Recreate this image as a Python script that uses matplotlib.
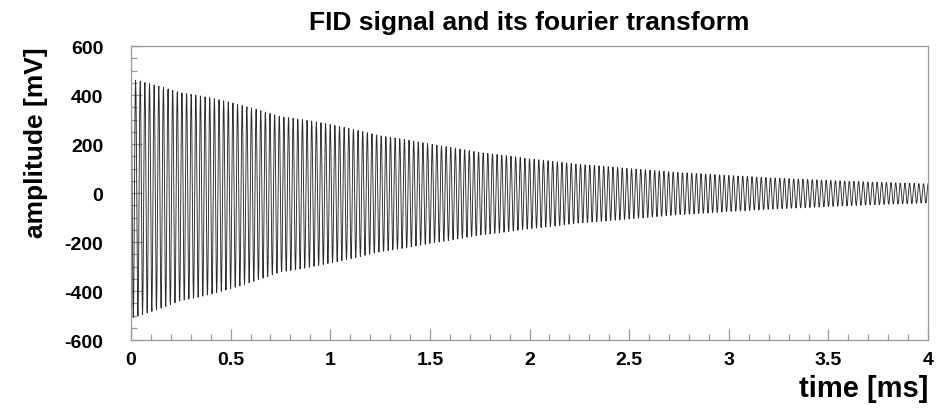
import numpy as np
import matplotlib
matplotlib.use("Agg")
import matplotlib.pyplot as plt
from matplotlib.ticker import MultipleLocator

# Envelope of the free induction decay (time in ms, amplitude in mV)
env_time_ms = [0.0, 0.25, 0.5, 0.75, 1.0, 1.5, 2.0, 2.5, 3.0, 3.5, 4.0]
env_upper_mV = [465, 420, 370, 320, 280, 200, 140, 100, 72, 52, 38]
env_lower_mV = [-510, -450, -390, -330, -285, -205, -145, -105, -75, -55, -40]
carrier_khz = 43.0
sample_rate_khz = 600.0

title = "FID signal and its fourier transform"
x_label = "time [ms]"
y_label = "amplitude [mV]"

t = np.arange(0.0, 4.0 + 1e-9, 1.0 / sample_rate_khz)
upper = np.interp(t, env_time_ms, env_upper_mV)
lower = np.interp(t, env_time_ms, env_lower_mV)
phase = np.cos(2 * np.pi * carrier_khz * t)
signal = np.where(phase >= 0, upper * phase, -lower * phase)

plt.rcParams["font.family"] = ["Liberation Sans", "DejaVu Sans"]
plt.rcParams["axes.unicode_minus"] = False
fig = plt.figure(figsize=(9.49, 4.10), dpi=100)
ax = fig.add_axes([0.138, 0.168, 0.840, 0.717])

ax.plot(t, signal, color="#2a2a2a", linewidth=0.65)

ax.set_xlim(0, 4)
ax.set_ylim(-600, 600)
ax.xaxis.set_major_locator(MultipleLocator(0.5))
ax.xaxis.set_minor_locator(MultipleLocator(0.1))
ax.yaxis.set_major_locator(MultipleLocator(200))
ax.yaxis.set_minor_locator(MultipleLocator(50))
ax.xaxis.set_major_formatter(plt.FuncFormatter(lambda v, p: f"{v:g}"))
ax.yaxis.set_major_formatter(plt.FuncFormatter(lambda v, p: f"{v:g}"))

for s in ax.spines.values():
    s.set_color("#9a9a9a")
    s.set_linewidth(0.9)

ax.tick_params(which="both", direction="in", color="#9a9a9a",
               top=False, right=False)
ax.tick_params(which="major", length=8, width=0.9)
ax.tick_params(which="minor", length=4, width=0.9)
ax.tick_params(axis="y", which="major", pad=20, labelsize=14)
ax.tick_params(axis="x", which="major", pad=8, labelsize=14)
for lab in ax.get_xticklabels() + ax.get_yticklabels():
    lab.set_fontweight("bold")

ax.set_title(title, fontsize=19, fontweight="bold", pad=12)
ax.set_xlabel(x_label, fontsize=21, fontweight="bold", loc="right", labelpad=4)
ax.set_ylabel(y_label, fontsize=19, fontweight="bold", loc="top", labelpad=12)

fig.savefig("out.png", dpi=100)
